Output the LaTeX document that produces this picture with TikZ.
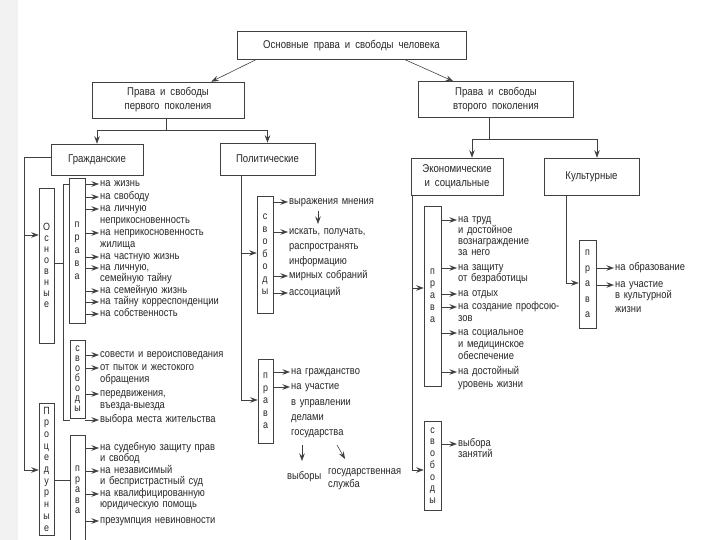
\documentclass[tikz,border=0pt]{standalone}
\usepackage{fontspec}
\setmainfont[FakeStretch=0.85]{Liberation Sans}
\usetikzlibrary{arrows.meta,calc}
\begin{document}
\begin{tikzpicture}[x=1pt,y=-1pt,
  every node/.style={inner sep=0pt, text=black!85},
  ft/.style={font={\fontsize{11}{13}\selectfont\spaceskip=3.6pt plus 1pt\relax}},
  hf/.style={font={\fontsize{11.3}{14}\selectfont\spaceskip=5pt plus 1pt\relax}},
  box/.style={draw=black!75, line width=0.6pt, hf, align=center},
  vbox/.style={draw=black!75, line width=0.6pt, align=center, font=\fontsize{10.5}{#1}\selectfont},
  txt/.style={anchor=west, ft, text height=7.8pt, text depth=2.3pt},
  ln/.style={draw=black!75, line width=0.6pt},
  arr/.style={ln, -{Stealth[length=7.5pt,width=5.5pt,inset=2.7pt]}},
]
\fill[gray!10] (0,0) rectangle (18,540);
\useasboundingbox (0,0) rectangle (720,540);

% top levels
\node[box, minimum width=229pt, minimum height=28pt] (top) at (351.5,45.5) {Основные права и свободы человека};
\node[box, minimum width=152pt, minimum height=36pt] (g1) at (168,100) {Права и свободы\\первого поколения};
\node[box, minimum width=155pt, minimum height=36pt] (g2) at (496,99.5) {Права и свободы\\второго поколения};
\draw[arr] ($(top.south west)+(19,0)$) -- ($(g1.north east)+(-33,0)$);
\draw[arr] ($(top.south east)+(-61,0)$) -- ($(g2.north west)+(35,0)$);

\node[box, minimum width=92pt, minimum height=31pt] (civ) at (97,159.5) {Гражданские};
\node[box, minimum width=95pt, minimum height=32pt] (pol) at (267.5,159) {Политические};
\node[box, minimum width=92pt, minimum height=37pt] (econ) at (457,176.5) {Экономические\\и социальные};
\node[box, minimum width=95pt, minimum height=37pt] (cult) at (591.5,176.5) {Культурные};

\coordinate (b1) at (166,130);
\draw[ln] (g1.south -| b1) -- (b1);
\draw[ln] (civ.north |- b1) -- (pol.north |- b1);
\draw[arr] (civ.north |- b1) -- (civ.north);
\draw[arr] (pol.north |- b1) -- (pol.north);

\coordinate (b2) at (489,139);
\coordinate (e1) at (472,139);
\coordinate (c1) at (597,139);
\draw[ln] (g2.south -| b2) -- (b2);
\draw[ln] (e1) -- (c1);
\draw[arr] (e1) -- (e1 |- econ.north);
\draw[arr] (c1) -- (c1 |- cult.north);

% civil
\node[vbox=11, minimum width=15pt, minimum height=155pt] (osn) at (46.5,265.5) {О\\с\\н\\о\\в\\н\\ы\\е};
\node[vbox=13, minimum width=16pt, minimum height=145pt] (civp) at (77,250.5) {п\\р\\а\\в\\а};
\node[vbox=10, minimum width=15pt, minimum height=78pt] (civs) at (77.5,379) {с\\в\\о\\б\\о\\д\\ы};
\node[vbox=11.7, minimum width=15pt, minimum height=132pt] (proc) at (46.5,469) {П\\р\\о\\ц\\е\\д\\у\\р\\н\\ы\\е};
\node[vbox=10.5, minimum width=15pt, minimum height=110pt] (procp) at (77.5,490) {п\\р\\а\\в\\а};

\coordinate (L1) at (24,157);
\coordinate (L2) at (24,235);
\coordinate (L3) at (24,470);
\draw[ln] (L1 -| civ.west) -- (L1) -- (L3);
\draw[arr] (L2) -- (L2 -| osn.west);
\draw[arr] (L3) -- (L3 -| proc.west);

\coordinate (q1) at (63,184);
\coordinate (q2) at (63,420);
\coordinate (q3) at (63,263);
\coordinate (q4) at (63,480);
\draw[ln] (q1 -| civp.west) -- (q1) -- (q2) -- (q2 -| civs.west);
\draw[ln] (q3 -| osn.east) -- (q3);
\draw[ln] (q4 -| proc.east) -- (q4 -| procp.west);

\node[txt] (a1) at (100,184) {на жизнь};
\node[txt] (a2) at (100,197) {на свободу};
\node[txt] (a3) at (100,209) {на личную};
\node[txt] (a3b) at (100,221) {неприкосновенность};
\node[txt] (a4) at (100,233) {на неприкосновенность};
\node[txt] (a4b) at (100,245) {жилища};
\node[txt] (a5) at (100,257) {на частную жизнь};
\node[txt] (a6) at (100,268) {на личную,};
\node[txt] (a6b) at (100,279) {семейную тайну};
\node[txt] (a7) at (100,291) {на семейную жизнь};
\node[txt] (a8) at (100,302) {на тайну корреспонденции};
\node[txt] (a9) at (100,314) {на собственность};
\foreach \n in {a1,a2,a3,a4,a5,a6,a7,a8,a9}
  \draw[arr] (civp.east |- \n.west) -- ([xshift=-1pt]\n.west);

\node[txt] (s1) at (100,355) {совести и вероисповедания};
\node[txt] (s2) at (100,368) {от пыток и жестокого};
\node[txt] (s2b) at (100,380) {обращения};
\node[txt] (s3) at (100,394) {передвижения,};
\node[txt] (s3b) at (100,406) {въезда-выезда};
\node[txt] (s4) at (100,420) {выбора места жительства};
\foreach \n in {s1,s2,s3,s4}
  \draw[arr] (civs.east |- \n.west) -- ([xshift=-1pt]\n.west);

\node[txt] (r1) at (100,448) {на судебную защиту прав};
\node[txt] (r1b) at (100,459) {и свобод};
\node[txt] (r2) at (100,471) {на независимый};
\node[txt] (r2b) at (100,482) {и беспристрастный суд};
\node[txt] (r3) at (100,494) {на квалифицированную};
\node[txt] (r3b) at (100,505) {юридическую помощь};
\node[txt] (r4) at (100,521) {презумпция невиновности};
\foreach \n in {r1,r2,r3,r4}
  \draw[arr] (procp.east |- \n.west) -- ([xshift=-1pt]\n.west);

% political
\node[vbox=12.5, minimum width=16pt, minimum height=117pt] (pols) at (265,254.5) {с\\в\\о\\б\\о\\д\\ы};
\node[vbox=12.5, minimum width=15pt, minimum height=84pt] (polp) at (265.5,401) {п\\р\\а\\в\\а};
\coordinate (P1) at (241,253);
\coordinate (P2) at (241,400);
\draw[ln] (pol.south -| P1) -- (P2);
\draw[arr] (P1) -- (P1 -| pols.west);
\draw[arr] (P2) -- (P2 -| polp.west);

\node[txt] (d1) at (289,202) {выражения мнения};
\node[txt] (d2) at (289,232) {искать, получать,};
\node[txt] (d2b) at (289,247) {распространять};
\node[txt] (d2c) at (289,262) {информацию};
\node[txt] (d3) at (289,276) {мирных собраний};
\node[txt] (d4) at (289,293) {ассоциаций};
\foreach \n in {d1,d2,d3,d4}
  \draw[arr] (pols.east |- \n.west) -- ([xshift=-1pt]\n.west);
\coordinate (dA) at (318,211);
\coordinate (dB) at (318,224);
\draw[arr] (dA) -- (dB);

\node[txt] (f1) at (291,372) {на гражданство};
\node[txt] (f2) at (291,387) {на участие};
\node[txt] (f2b) at (291,403) {в управлении};
\node[txt] (f2c) at (291,418) {делами};
\node[txt] (f2d) at (291,433) {государства};
\foreach \n in {f1,f2}
  \draw[arr] (polp.east |- \n.west) -- ([xshift=-1pt]\n.west);
\node[txt] (f3) at (287,477) {выборы};
\node[txt] (f4) at (328,472) {государственная};
\node[txt] (f4b) at (328,485) {служба};
\coordinate (gA) at (302,445);
\coordinate (gB) at (302,461);
\coordinate (gC) at (337,445);
\coordinate (gD) at (345,459);
\draw[arr] (gA) -- (gB);
\draw[arr] (gC) -- (gD);

% economic
\node[vbox=12, minimum width=17pt, minimum height=180pt] (ep) at (432.5,296) {п\\р\\а\\в\\а};
\node[vbox=11.7, minimum width=17pt, minimum height=89pt] (es) at (432.5,465.5) {с\\в\\о\\б\\о\\д\\ы};
\coordinate (E1) at (412,288);
\coordinate (E2) at (412,470);
\draw[ln] (econ.south -| E1) -- (E2);
\draw[arr] (E1) -- (E1 -| ep.west);
\draw[arr] (E2) -- (E2 -| es.west);

\node[txt] (h1) at (458,220) {на труд};
\node[txt] (h1b) at (458,231) {и достойное};
\node[txt] (h1c) at (458,242) {вознаграждение};
\node[txt] (h1d) at (458,253) {за него};
\node[txt] (h2) at (458,268) {на защиту};
\node[txt] (h2b) at (458,279) {от безработицы};
\node[txt] (h3) at (458,294) {на отдых};
\node[txt] (h4) at (458,307) {на создание профсою-};
\node[txt] (h4b) at (458,319) {зов};
\node[txt] (h5) at (458,333) {на социальное};
\node[txt] (h5b) at (458,345) {и медицинское};
\node[txt] (h5c) at (458,357) {обеспечение};
\node[txt] (h6) at (458,372) {на достойный};
\node[txt] (h6b) at (458,385) {уровень жизни};
\foreach \n in {h1,h2,h3,h4,h5,h6}
  \draw[arr] (ep.east |- \n.west) -- ([xshift=-1pt]\n.west);

\node[txt] (j1) at (458,444) {выбора};
\node[txt] (j1b) at (458,455) {занятий};
\draw[arr] (es.east |- j1.west) -- ([xshift=-1pt]j1.west);

% cultural
\node[vbox=15.5, minimum width=17pt, minimum height=88pt] (cp) at (587.5,284) {п\\р\\а\\в\\а};
\coordinate (C1) at (566,283);
\draw[ln] (cult.south -| C1) -- (C1);
\draw[arr] (C1) -- (C1 -| cp.west);
\node[txt] (k1) at (615,268) {на образование};
\node[txt] (k2) at (615,285) {на участие};
\node[txt] (k2b) at (615,296) {в культурной};
\node[txt] (k2c) at (615,310) {жизни};
\foreach \n in {k1,k2}
  \draw[arr] (cp.east |- \n.west) -- ([xshift=-1pt]\n.west);
\end{tikzpicture}
\end{document}
